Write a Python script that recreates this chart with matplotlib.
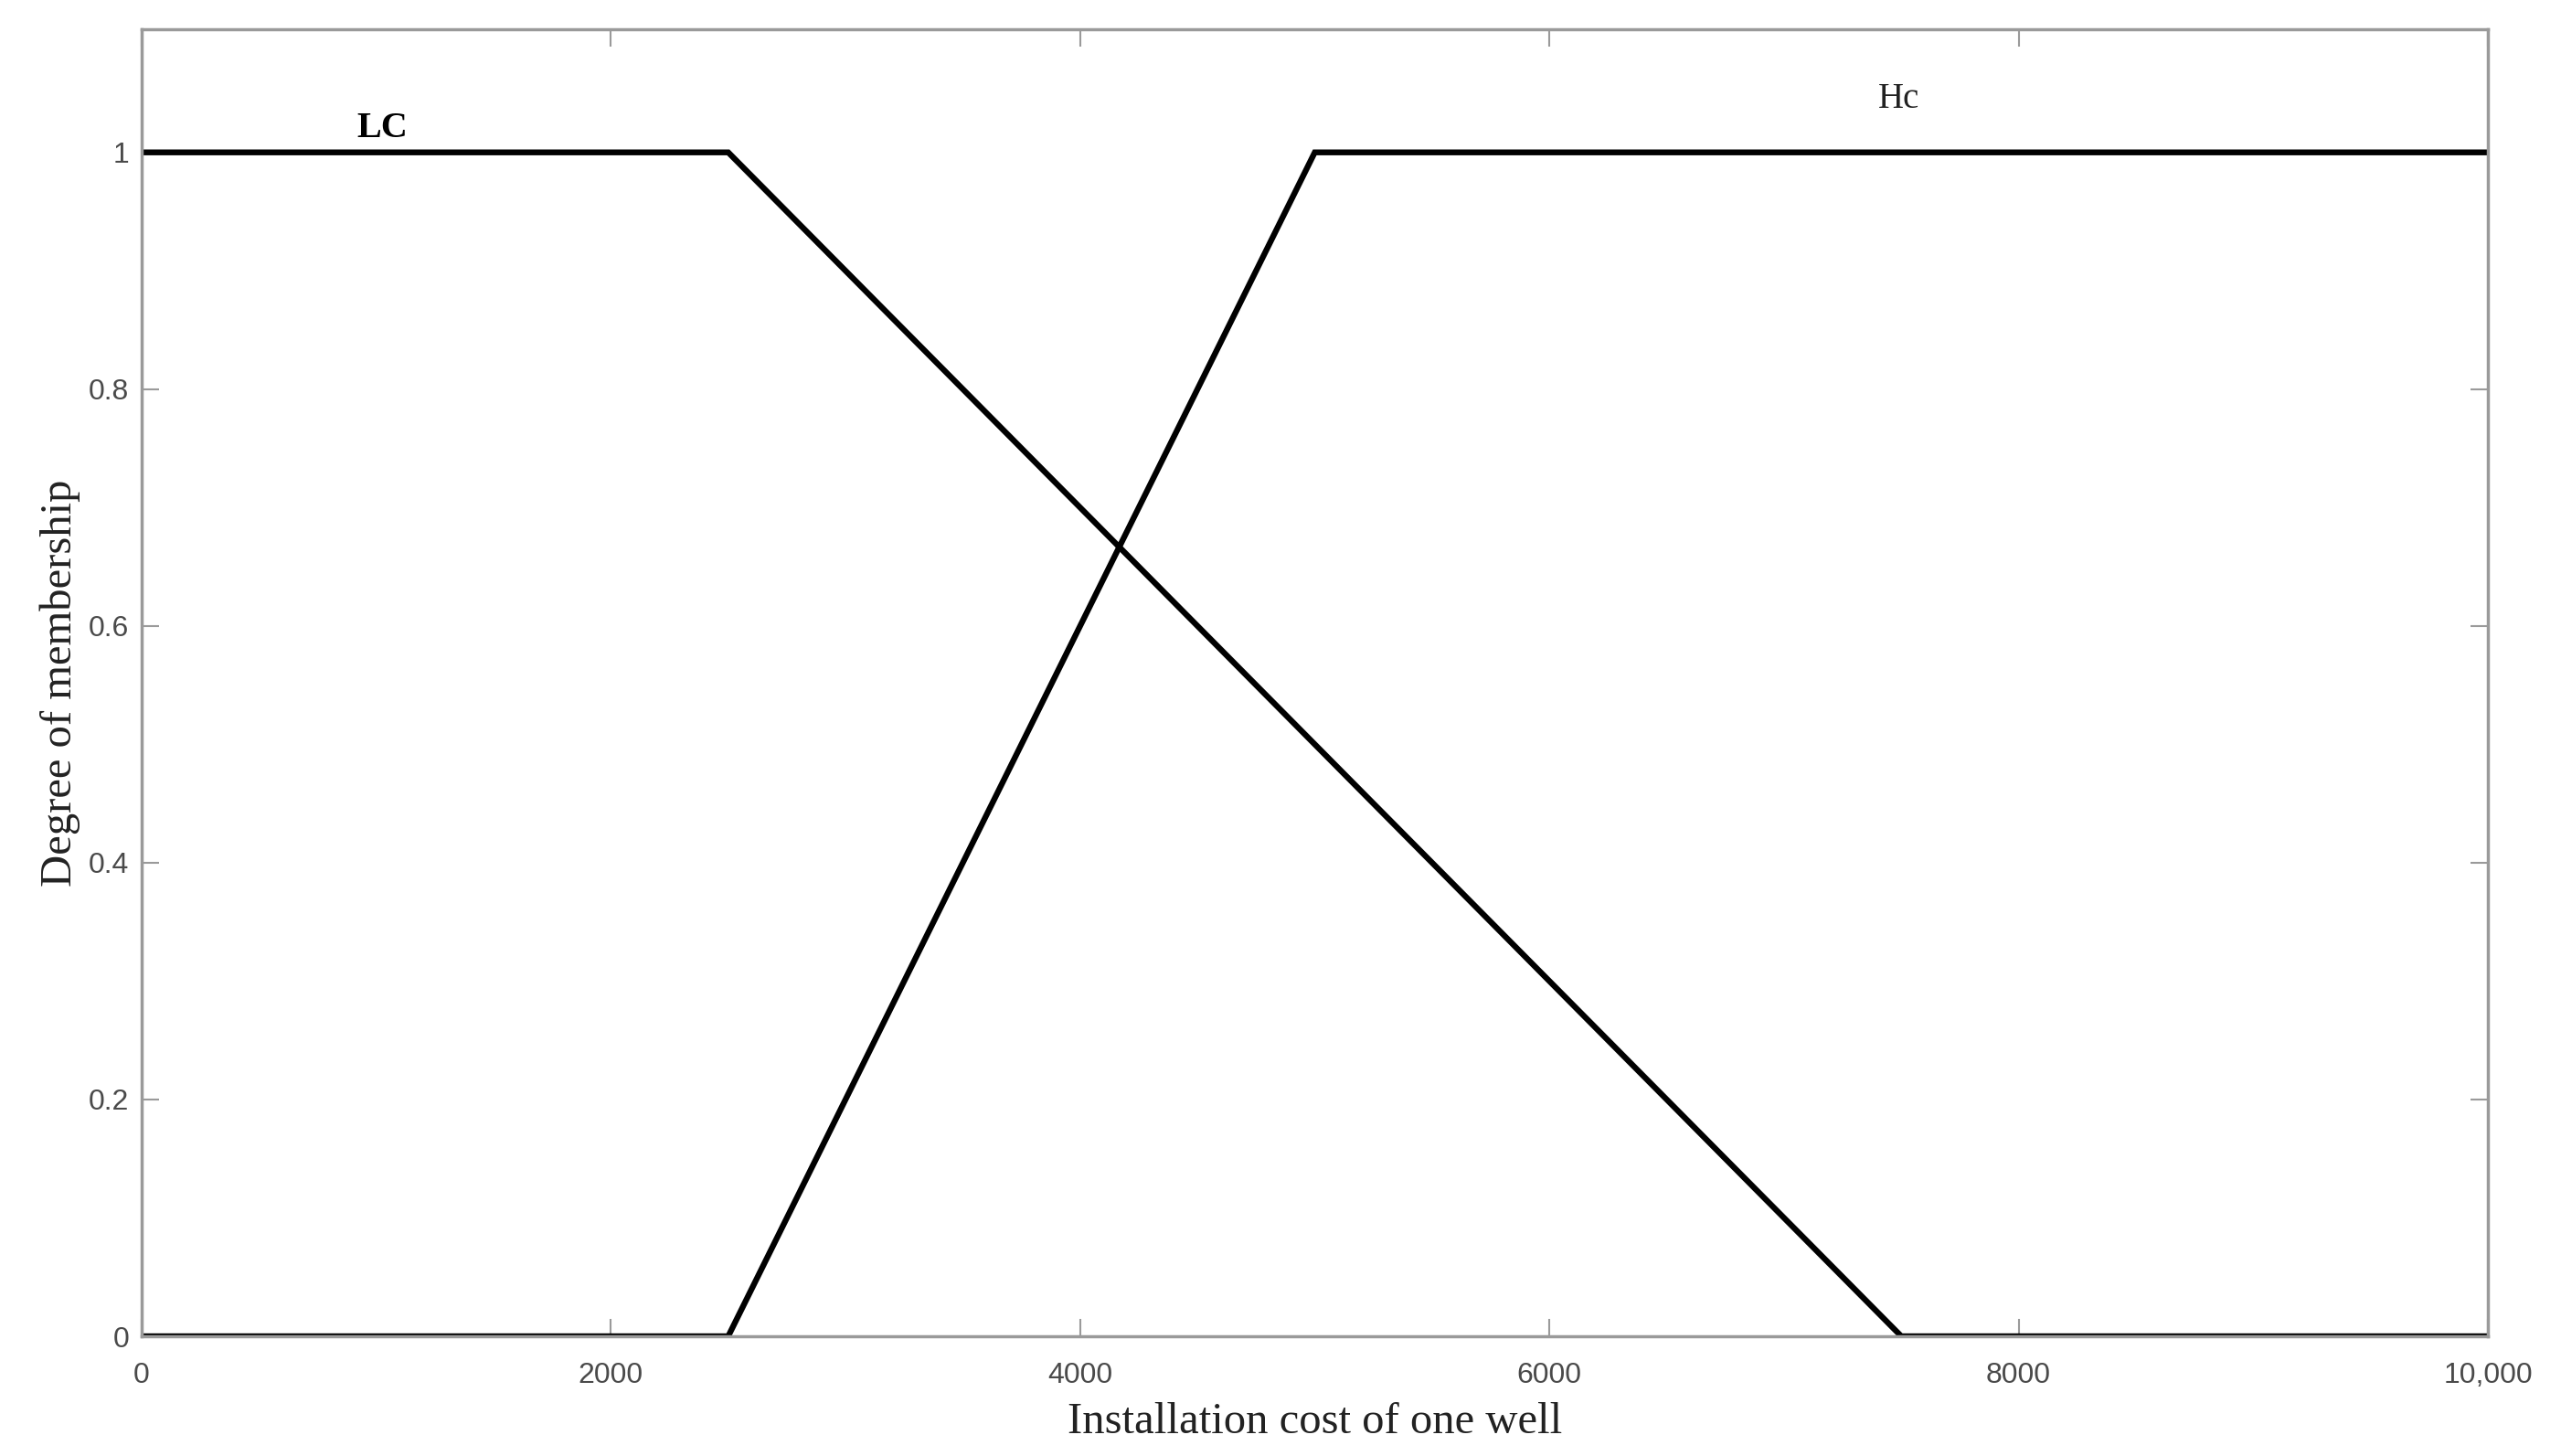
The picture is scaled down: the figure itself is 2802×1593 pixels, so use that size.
import matplotlib
matplotlib.use("Agg")
import matplotlib.pyplot as plt

# membership functions (trapezoids)
cost = [0, 2500, 5000, 7500, 10000]
lc = [1, 1, 0.5, 0, 0]
hc = [0, 0, 1, 1, 1]

xticks = [0, 2000, 4000, 6000, 8000, 10000]
xtick_labels = ["0", "2000", "4000", "6000", "8000", "10,000"]
yticks = [0, 0.2, 0.4, 0.6, 0.8, 1]
ytick_labels = ["0", "0.2", "0.4", "0.6", "0.8", "1"]

fig = plt.figure(figsize=(28.02, 15.93), dpi=100)
ax = fig.add_axes([155 / 2802, 1 - 1462 / 1593, (2722 - 155) / 2802, (1462 - 32) / 1593])

ax.plot(cost, lc, color="black", lw=4.6, solid_joinstyle="miter")
ax.plot(cost, hc, color="black", lw=4.6, solid_joinstyle="miter")

ax.set_xlim(0, 10000)
ax.set_ylim(0, 1.104)
ax.set_xticks(xticks)
ax.set_xticklabels(xtick_labels)
ax.set_yticks(yticks)
ax.set_yticklabels(ytick_labels)

grey = "#9a9a9a"
for s in ax.spines.values():
    s.set_color(grey)
    s.set_linewidth(2.5)
ax.tick_params(direction="in", length=14, width=1.5, color=grey,
               top=True, right=True, labelsize=23, labelcolor="#4a4a4a")
ax.tick_params(axis="x", pad=20)
ax.tick_params(axis="y", pad=10)
for lab in ax.get_xticklabels() + ax.get_yticklabels():
    lab.set_family("Liberation Sans")

ax.set_xlabel("Installation cost of one well", family="Liberation Serif",
              fontsize=35, color="#222222", labelpad=10)
ax.set_ylabel("Degree of membership", family="Liberation Serif",
              fontsize=35, color="#222222", labelpad=6)

ax.text(1024, 1.006, "LC", family="Liberation Serif", fontweight="bold",
        fontsize=29, ha="center", va="bottom")
ax.text(7491, 1.031, "Hc", family="Liberation Serif", fontsize=28,
        ha="center", va="bottom", color="#222222")

fig.savefig("out.png", dpi=100)
